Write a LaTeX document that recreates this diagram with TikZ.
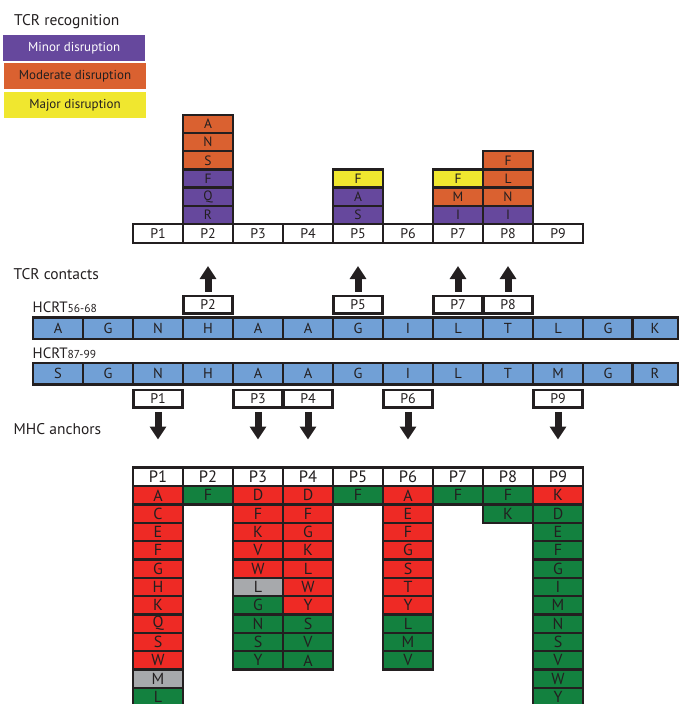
\documentclass[tikz,border=0pt]{standalone}
\usepackage{fontspec}
\setmainfont{PT Sans}
\usetikzlibrary{arrows.meta}
\definecolor{purp}{HTML}{66489D}
\definecolor{orng}{HTML}{DA6130}
\definecolor{yell}{HTML}{F0E72F}
\definecolor{blu}{HTML}{71A0D6}
\definecolor{rd}{HTML}{EE2A25}
\definecolor{grn}{HTML}{13813F}
\definecolor{gry}{HTML}{A7A9AC}
\definecolor{ink}{HTML}{231F20}
\begin{document}
\begin{tikzpicture}[x=1pt,y=-1pt,
  basecell/.style={draw=ink, line width=2.5pt, inner sep=0pt, text=ink, minimum width=50pt},
  topcell/.style={basecell, minimum height=18.2pt, font=\fontsize{13.5}{13.5}\selectfont},
  prow/.style={basecell, fill=white, minimum height=19pt, font=\fontsize{14}{14}\selectfont},
  smallbox/.style={basecell, fill=white, minimum width=49pt, minimum height=17.5pt, font=\fontsize{14}{14}\selectfont},
  seqcell/.style={basecell, fill=blu, minimum height=21.3pt, font=\fontsize{14.5}{14.5}\selectfont},
  hdcell/.style={basecell, fill=white, minimum height=18.7pt, font=\fontsize{16.5}{16.5}\selectfont},
  mhccell/.style={basecell, minimum height=18.33pt, font=\fontsize{16}{16}\selectfont},
  legbox/.style={inner sep=0pt, minimum width=142pt, minimum height=25.5pt, font=\fontsize{13}{13}\selectfont, text=ink},
  sectlabel/.style={anchor=base west, inner sep=0pt, text=ink, font=\fontsize{15.5}{15.5}\selectfont},
  bigarrow/.style={draw=ink, line width=7pt, -{Triangle[length=13pt,width=16pt]}}
]
\useasboundingbox (0,0) rectangle (679,704);

% legend
\node[sectlabel] (ltitle) at (14,25) {TCR recognition};
\node[legbox, fill=purp, text=white] (lg1) at (74.2,47.8) {Minor disruption};
\node[legbox, fill=orng] (lg2) at (75,76.2) {Moderate disruption};
\node[legbox, fill=yell] (lg3) at (75,105) {Major disruption};

% TCR recognition stacks
\foreach \c/\k/\lt/\cl in {2/1/R/purp, 2/2/Q/purp, 2/3/F/purp, 2/4/S/orng, 2/5/N/orng, 2/6/A/orng,
  5/1/S/purp, 5/2/A/purp, 5/3/F/yell,
  7/1/I/purp, 7/2/M/orng, 7/3/F/yell,
  8/1/I/purp, 8/2/N/orng, 8/3/L/orng, 8/4/F/orng}
  \node[topcell, fill=\cl] (u\c-\k) at ({158+50*(\c-1)},{224-18.2*(\k-0.5)}) {\lt};
\foreach \i in {1,...,9}
  \node[prow] (tp\i) at ({158+50*(\i-1)},233.5) {P\i};

% TCR contacts
\node[sectlabel] (ltcr) at (13.5,279) {TCR contacts};
\foreach \i in {2,5,7,8} {
  \node[smallbox] (cu\i) at ({158+50*(\i-1)},304.5) {P\i};
  \coordinate (tu\i) at ({158+50*(\i-1)},266);
  \draw[bigarrow, shorten <=2.8pt] (cu\i.north) -- (tu\i);
}

% sequences
\node[anchor=base west, inner sep=0pt, text=ink, font=\fontsize{15}{15}\selectfont] (h1) at (32.5,312.3) {HCRT{\fontsize{11.5}{11.5}\selectfont 56-68}};
\node[anchor=base west, inner sep=0pt, text=ink, font=\fontsize{15}{15}\selectfont] (h2) at (32.5,358.3) {HCRT{\fontsize{11.5}{11.5}\selectfont 87-99}};
\foreach \lt [count=\k from 0] in {A,G,N,H,A,A,G,I,L,T,L,G}
  \node[seqcell] (sa\k) at ({58+50*\k},328.3) {\lt};
\node[seqcell, minimum width=45.5pt] (sa12) at (655,328.3) {K};
\foreach \lt [count=\k from 0] in {S,G,N,H,A,A,G,I,L,T,M,G}
  \node[seqcell] (sb\k) at ({58+50*\k},373.6) {\lt};
\node[seqcell, minimum width=45.5pt] (sb12) at (655,373.6) {R};

% MHC anchors
\node[sectlabel] (lmhc) at (13.5,434) {MHC anchors};
\foreach \i in {1,3,4,6,9} {
  \node[smallbox] (cd\i) at ({158+50*(\i-1)},398.5) {P\i};
  \coordinate (td\i) at ({158+50*(\i-1)},439.5);
  \draw[bigarrow, shorten <=3.3pt] (cd\i.south) -- (td\i);
}

% MHC table
\foreach \c/\k/\lt/\cl in {
  1/1/A/rd, 1/2/C/rd, 1/3/E/rd, 1/4/F/rd, 1/5/G/rd, 1/6/H/rd, 1/7/K/rd, 1/8/Q/rd, 1/9/S/rd, 1/10/W/rd, 1/11/M/gry, 1/12/L/grn,
  2/1/F/grn,
  3/1/D/rd, 3/2/F/rd, 3/3/K/rd, 3/4/V/rd, 3/5/W/rd, 3/6/L/gry, 3/7/G/grn, 3/8/N/grn, 3/9/S/grn, 3/10/Y/grn,
  4/1/D/rd, 4/2/F/rd, 4/3/G/rd, 4/4/K/rd, 4/5/L/rd, 4/6/W/rd, 4/7/Y/rd, 4/8/S/grn, 4/9/V/grn, 4/10/A/grn,
  5/1/F/grn,
  6/1/A/rd, 6/2/E/rd, 6/3/F/rd, 6/4/G/rd, 6/5/S/rd, 6/6/T/rd, 6/7/Y/rd, 6/8/L/grn, 6/9/M/grn, 6/10/V/grn,
  7/1/F/grn,
  8/1/F/grn, 8/2/K/grn,
  9/1/K/rd, 9/2/D/grn, 9/3/E/grn, 9/4/F/grn, 9/5/G/grn, 9/6/I/grn, 9/7/M/grn, 9/8/N/grn, 9/9/S/grn, 9/10/V/grn, 9/11/W/grn, 9/12/Y/grn}
  \node[mhccell, fill=\cl] (m\c-\k) at ({158+50*(\c-1)},{486.2+18.33*(\k-0.5)}) {\lt};
\foreach \i in {1,...,9}
  \node[hdcell] (bp\i) at ({158+50*(\i-1)},476.8) {P\i};
\end{tikzpicture}
\end{document}
